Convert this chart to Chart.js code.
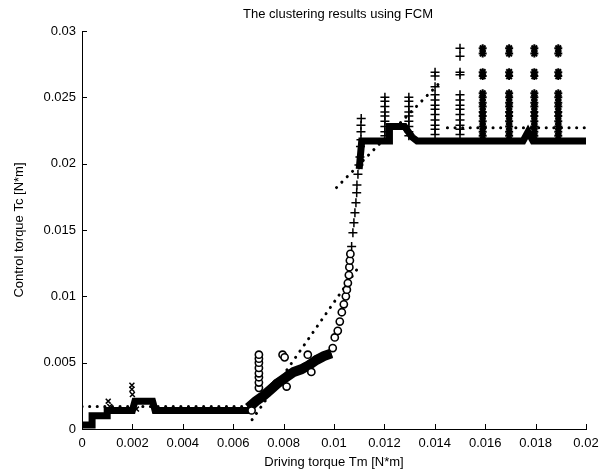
<!DOCTYPE html>
<html><head><meta charset="utf-8">
<script src="https://cdn.jsdelivr.net/npm/chart.js@4/dist/chart.umd.min.js"></script>
<style>html,body{margin:0;padding:0;background:#fff}#wrap{width:613px;height:471px}</style>
</head><body><div id="wrap"><canvas id="c" width="613" height="471"></canvas></div>
<script>
// ---- tick labels ----
const xTickValues = [0,0.002,0.004,0.006,0.008,0.01,0.012,0.014,0.016,0.018,0.02];
const xTickLabels = ['0','0.002','0.004','0.006','0.008','0.01','0.012','0.014','0.016','0.018','0.02'];
const yTickValues = [0,0.005,0.01,0.015,0.02,0.025,0.03];
const yTickLabels = ['0','0.005','0.01','0.015','0.02','0.025','0.03'];
const chartTitle = 'The clustering results using FCM';

// ---- dense trajectory (overlapping dot markers, drawn thick) ----
const trajX = [0,0.0004,0.0004,0.0010,0.0010,0.0020,0.0021,0.0028,0.0029,0.0066,0.0069,0.0071,0.0073,0.0075,0.0077,0.0080,0.0082,0.0086,0.0088,0.0091,0.0093,0.0096,0.0099,null,0.0110,0.0111,0.0122,0.0122,0.0128,0.0131,0.0133,0.0175,0.0177,0.0179,0.0200];
const trajY = [0.0003,0.0003,0.0010,0.0010,0.0014,0.0014,0.0021,0.0021,0.0014,0.0014,0.0020,0.0024,0.0027,0.0031,0.0035,0.0038,0.0042,0.0044,0.0047,0.0050,0.0053,0.0055,0.0057,null,0.0196,0.0217,0.0217,0.0228,0.0228,0.0220,0.0217,0.0217,0.0224,0.0217,0.0217];
// staircase part is a wider smear of points
const stairX = [0.0066,0.0069,0.0072,0.0075,0.0078,0.0081,0.0084,0.0087,0.0090,0.0093,0.0096,0.0099];
const stairY = [0.0016,0.0021,0.0025,0.0030,0.0035,0.0039,0.0043,0.0045,0.0048,0.0052,0.0055,0.0057];

// ---- cluster "x" ----
const xMarkX = [0.00198,0.00198,0.0020,0.00104,0.00216,0.0011];
const xMarkY = [0.0033,0.0030,0.0026,0.0021,0.0015,0.0017];

// ---- cluster "o" ----
const circX = [0.00673,0.00702,0.00702,0.00702,0.00702,0.00702,0.00702,0.00702,0.00702,0.00796,0.00804,0.00812,0.00896,0.0091,0.00995,0.01003,0.01015,0.01023,0.01031,0.01039,0.01047,0.01051,0.01055,0.01059,0.01061,0.01063,0.01065];
const circY = [0.0014,0.0031,0.0035,0.0039,0.0042,0.0046,0.0050,0.0053,0.0056,0.0056,0.0054,0.0032,0.0056,0.0043,0.0061,0.0069,0.0074,0.0081,0.0088,0.0094,0.0100,0.0105,0.0110,0.0116,0.0122,0.0127,0.0132];

// ---- cluster "+" ----
const plusX = [0.0107,0.01075,0.01079,0.01083,0.01087,0.0109,0.01091,0.01095,0.01099,0.01103,0.01105,0.01107,0.01107,0.01107,0.01108];
const plusY = [0.01376,0.01479,0.01555,0.0163,0.01705,0.0178,0.0184,0.0192,0.0199,0.0205,0.0213,0.0218,0.0224,0.0229,0.0234];
const plusColX = [0.01202,0.01297,0.01401,0.0150];
const plusCol1 = [0.0250,0.0247,0.0243,0.0239,0.0236,0.0232,0.0228,0.0224,0.0221];
const plusCol2 = [0.0250,0.0247,0.0243,0.0239,0.0236,0.0232,0.0228,0.0224,0.0221];
const plusCol3 = [0.0269,0.0266,0.0258,0.0252,0.0248,0.0244,0.0241,0.0237,0.0233,0.0229,0.0226,0.0222];
const plusCol4 = [0.0287,0.0281,0.0269,0.0267,0.0252,0.0248,0.0244,0.0241,0.0237,0.0233,0.0229,0.0226,0.0222];

// ---- cluster "*" ----
const starColX = [0.0159,0.01695,0.01795,0.0189];
const starLevels = [0.0287,0.0283,0.0269,0.0266,0.0253,0.0250,0.0246,0.0243,0.0239,0.0236,0.0232,0.0228,0.0224,0.0221];

// ---- fitted local models (dotted lines) ----
const line1X = [0,0.0068],        line1Y = [0.0017,0.0017];
const line2X = [0.00675,0.0109],  line2Y = [0.0007,0.0120];
const line3X = [0.0101,0.0143],   line3Y = [0.0182,0.0263];
const line4X = [0.0145,0.0200],   line4Y = [0.0227,0.0227];

const zip = (xs, ys) => xs.map((x,i) => ({x: x, y: ys[i]}));
const plusCols = [plusCol1,plusCol2,plusCol3,plusCol4];
const plusPts = zip(plusX, plusY).concat(...plusColX.map((x,i)=>plusCols[i].map(y=>({x,y}))));
const starPts = [].concat(...starColX.map(x=>starLevels.map(y=>({x,y}))));

const dotted = (xs, ys) => ({type:'line', data: zip(xs, ys), borderColor:'#000', borderWidth:3,
  borderDash:[0.1,7.5], borderCapStyle:'round', pointRadius:0, fill:false, order:5});

const FONT = "'Liberation Sans', Arial, sans-serif";

const extras = {
  id:'extras',
  afterDraw(chart){
    const {ctx, chartArea:a, scales:{x,y}} = chart;
    ctx.save(); ctx.strokeStyle='#000'; ctx.lineWidth=1; ctx.beginPath();
    x.ticks.forEach(t=>{const p=Math.round(x.getPixelForValue(t.value))+0.5; ctx.moveTo(p,a.bottom); ctx.lineTo(p,a.bottom-5);});
    y.ticks.forEach(t=>{const p=Math.round(y.getPixelForValue(t.value))+0.5; ctx.moveTo(a.left,p); ctx.lineTo(a.left+5,p);});
    ctx.stroke();
    ctx.fillStyle='#000'; ctx.font = "13px " + FONT; ctx.textAlign='center'; ctx.textBaseline='middle';
    ctx.fillText(chartTitle, (a.left + a.right)/2 + 4, 14);
    ctx.restore();
  }
};

new Chart(document.getElementById('c'), {
  type:'scatter',
  data:{datasets:[
    {type:'line', data: zip(trajX, trajY), borderColor:'#000', borderWidth:7, pointRadius:0, spanGaps:false, fill:false, order:10},
    {type:'line', data: zip(stairX, stairY), borderColor:'#000', borderWidth:10, pointRadius:0, fill:false, order:11},
    dotted(line1X,line1Y), dotted(line2X,line2Y), dotted(line3X,line3Y), dotted(line4X,line4Y),
    {data: zip(xMarkX,xMarkY), pointStyle:'crossRot', radius:3.5, borderColor:'#000', borderWidth:1.5, order:2},
    {data: zip(circX,circY), pointStyle:'circle', radius:3.6, backgroundColor:'#fff', borderColor:'#000', borderWidth:1.6, order:1},
    {data: plusPts, pointStyle:'cross', radius:4.5, borderColor:'#000', borderWidth:1.5, order:2},
    {data: starPts, pointStyle:'star', radius:4, borderColor:'#000', borderWidth:2, order:2}
  ]},
  options:{
    responsive:false, animation:false, devicePixelRatio:1,
    layout:{padding:{left:0,right:27,top:31,bottom:0}},
    plugins:{ legend:{display:false}, tooltip:{enabled:false}, title:{display:false} },
    scales:{
      x:{type:'linear', min:0, max:0.02,
        afterBuildTicks:s=>{s.ticks = xTickValues.map(v=>({value:v}));},
        afterFit:s=>{s.height = 42;},
        ticks:{color:'#000', font:{family:FONT,size:13}, padding:7, maxRotation:0,
          callback:(v,i)=>xTickLabels[i]},
        grid:{display:false, drawTicks:false}, border:{display:true,color:'#000',width:1},
        title:{display:true, text:'Driving torque Tm [N*m]', color:'#000', font:{family:FONT,size:13}, padding:{top:0,bottom:1.2}}
      },
      y:{type:'linear', min:0, max:0.03,
        afterBuildTicks:s=>{s.ticks = yTickValues.map(v=>({value:v}));},
        afterFit:s=>{s.width = 82;},
        ticks:{color:'#000', font:{family:FONT,size:13}, padding:6,
          callback:(v,i)=>yTickLabels[i]},
        grid:{display:false, drawTicks:false}, border:{display:true,color:'#000',width:1},
        title:{display:true, text:'Control torque Tc [N*m]', color:'#000', font:{family:FONT,size:13}, padding:{top:12,bottom:0}}
      }
    }
  },
  plugins:[extras]
});
</script></body></html>
